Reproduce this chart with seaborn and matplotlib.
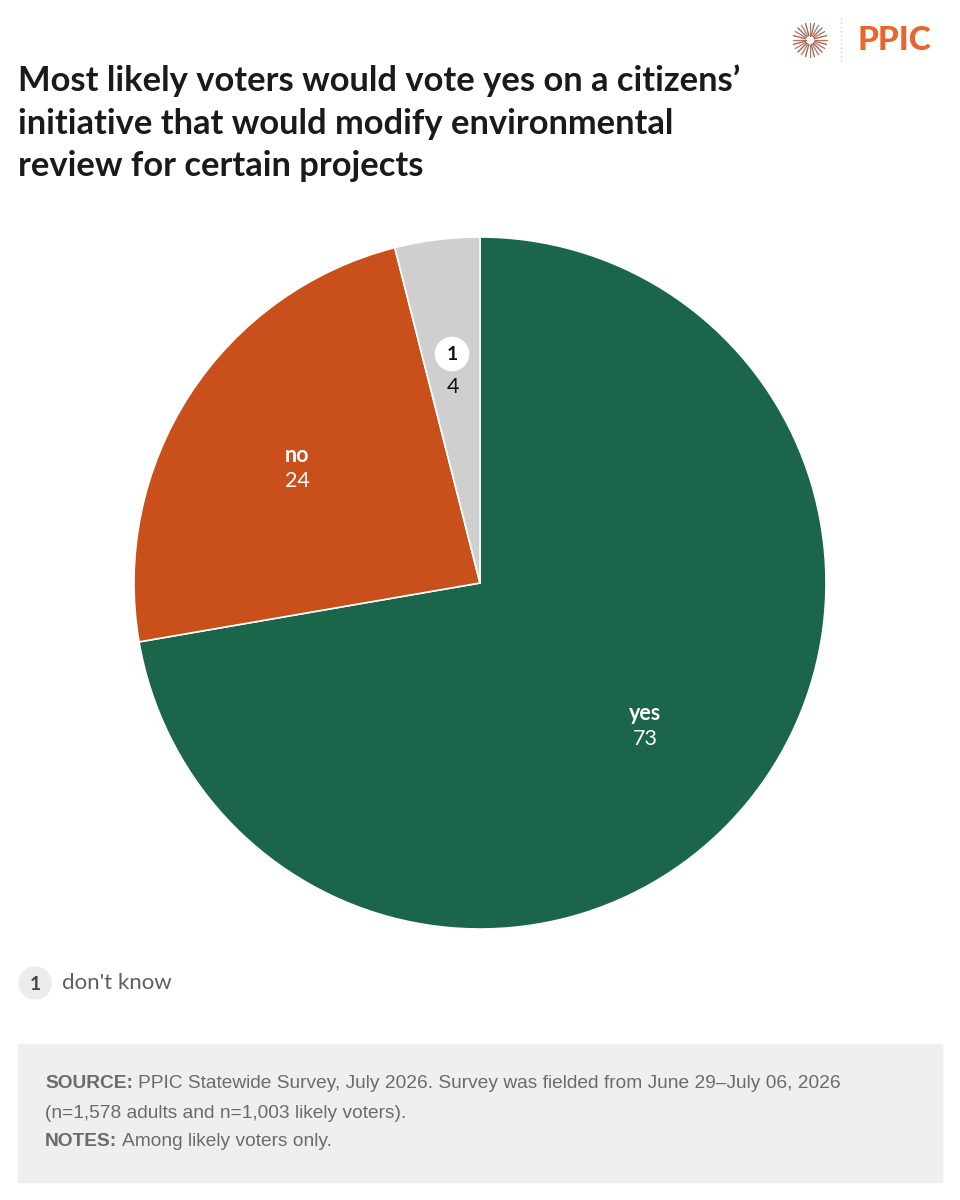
import numpy as np
import matplotlib
matplotlib.use("Agg")
import matplotlib.pyplot as plt
import seaborn as sns
from matplotlib.patches import Circle, Rectangle

# data
categories = ["yes", "no", "don't know"]
values = [73, 24, 4]
colors = ["#1b654b", "#c94f1b", "#cfcfcf"]

title = ("Most likely voters would vote yes on a citizens\u2019\n"
         "initiative that would modify environmental\n"
         "review for certain projects")

sns.set_theme(style="white")
plt.rcParams['font.family'] = ['Lato', 'DejaVu Sans']

W, H = 960, 1200
fig = plt.figure(figsize=(W / 100, H / 100), dpi=100)
fig.patch.set_facecolor("white")


def px(x, y):
    return x / W, 1 - y / H


# title
fig.text(*px(18, 64), title, fontsize=24.8, fontweight="bold", color="#1a1a1a",
         va="top", ha="left", linespacing=1.42)

# logo
fig.text(*px(858, 40), "PPIC", fontsize=24, fontweight="black", color="#e8652d",
         va="center", ha="left")
lax = fig.add_axes([790 / W, 1 - 58 / H, 40 / W, 36 / H])
lax.set_xlim(-1, 1); lax.set_ylim(-1, 1); lax.set_aspect("equal"); lax.axis("off")
for i, a in enumerate(np.linspace(0, 2 * np.pi, 24, endpoint=False)):
    c = "#e8652d" if i % 2 == 0 else "#5b6f86"
    lax.plot([0.25 * np.cos(a), 0.95 * np.cos(a)], [0.25 * np.sin(a), 0.95 * np.sin(a)],
             color=c, lw=0.9)
fig.add_artist(plt.Line2D([841 / W, 841 / W], [1 - 18 / H, 1 - 62 / H], color="#cccccc",
                          lw=1, ls=(0, (1, 2))))

# pie
cx, cy, r = 480, 583, 346
ax = fig.add_axes([(cx - r) / W, 1 - (cy + r) / H, 2 * r / W, 2 * r / H])
wedges, _ = ax.pie(values, colors=colors, startangle=90, counterclock=False,
                   wedgeprops=dict(edgecolor="white", linewidth=1.2), radius=1)
ax.set_xlim(-1, 1); ax.set_ylim(-1, 1); ax.set_aspect("equal")


def lbl(x, y, name, val, col):
    X, Y = (x - cx) / r, (cy - y) / r
    ax.text(X, Y + 0.03, name, ha="center", va="bottom", fontsize=15.5, fontweight="bold", color=col)
    ax.text(X, Y + 0.015, str(val), ha="center", va="top", fontsize=15.5, color=col)


lbl(645, 734, categories[0], values[0], "white")
lbl(297, 476, categories[1], values[1], "white")
# don't know marker
X, Y = (452 - cx) / r, (cy - 354) / r
ax.add_patch(Circle((X, Y), 0.048, color="white", zorder=5))
ax.text(X, Y, "1", ha="center", va="center", fontsize=14, fontweight="bold", color="#111111", zorder=6)
ax.text((453 - cx) / r, (cy - 387) / r, str(values[2]), ha="center", va="center", fontsize=15.5,
        color="#111111")

# legend
lgx = fig.add_axes([0, 0, 1, 1], facecolor="none")
lgx.set_xlim(0, W); lgx.set_ylim(H, 0); lgx.axis("off")
lgx.add_patch(Circle((35, 983), 16, color="#ececec"))
lgx.text(35, 984, "1", ha="center", va="center", fontsize=14, fontweight="bold", color="#444444")
lgx.text(62, 983, categories[2], ha="left", va="center", fontsize=16, color="#5f5f5f")

# footer
lgx.add_patch(Rectangle((18, 1044), 924, 138, color="#eeeff1"))
fam = ['Liberation Sans Narrow', 'Liberation Sans', 'DejaVu Sans']
fcol = "#6b6b6b"
fs = 13.8
renderer = fig.canvas.get_renderer()


def footer_line(y, bold, rest):
    x0 = 45
    if bold:
        t = lgx.text(x0, y, bold, fontsize=fs, fontweight="bold", color=fcol, va="center", family=fam)
        bb = t.get_window_extent(renderer=renderer)
        x0 = bb.x1 + 5
    lgx.text(x0, y, rest, fontsize=fs, color=fcol, va="center", family=fam)


footer_line(1084, "SOURCE:", "PPIC Statewide Survey, July 2026. Survey was fielded from June 29\u2013July 06, 2026")
footer_line(1113, None, "(n=1,578 adults and n=1,003 likely voters).")
footer_line(1142, "NOTES:", "Among likely voters only.")

fig.savefig("out.png", dpi=100)
